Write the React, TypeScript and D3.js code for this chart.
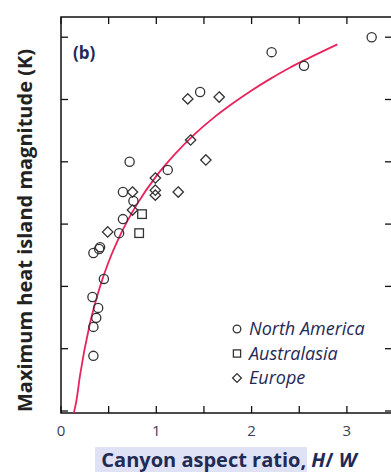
import React from "react";
import * as d3 from "d3";

const xTicks = [0, 0.5, 1, 1.5, 2, 2.5, 3];
const xTickLabels = [0, 1, 2, 3];
const yTicks = [0, 2, 4, 6, 8, 10, 12];

const northAmerica: [number, number][] = [
  [3.26, 12.0], [2.21, 11.52], [2.55, 11.08], [1.46, 10.24], [0.72, 8.0],
  [1.12, 7.74], [0.65, 7.03], [0.76, 6.74], [0.65, 6.16], [0.61, 5.71],
  [0.41, 5.26], [0.40, 5.2], [0.34, 5.07], [0.45, 4.24], [0.33, 3.66],
  [0.39, 3.31], [0.37, 2.99], [0.34, 2.7], [0.34, 1.77],
];
const australasia: [number, number][] = [
  [0.85, 6.32], [0.82, 5.71],
];
const europe: [number, number][] = [
  [1.33, 10.02], [1.66, 10.08], [1.36, 8.7], [1.52, 8.06], [0.99, 7.48],
  [0.99, 7.09], [0.99, 6.93], [1.23, 7.03], [0.75, 7.03], [0.75, 6.45],
  [0.49, 5.75],
];
const fitCurve: [number, number][] = [
  [0.135, -0.06], [0.16, 0.3], [0.2, 1.15], [0.3, 2.76], [0.4, 3.9], [0.5, 4.79],
  [0.6, 5.51], [0.7, 6.12], [0.8, 6.65], [1.0, 7.54], [1.2, 8.26],
  [1.4, 8.88], [1.6, 9.41], [1.8, 9.87], [2.0, 10.29], [2.2, 10.67],
  [2.4, 11.02], [2.6, 11.33], [2.9, 11.77],
];
const legendItems = ["North America", "Australasia", "Europe"];

const W = 391, H = 472;
const left = 61, right = 392, top = 17, bottom = 413;

export default function App() {
  const x = d3.scaleLinear().domain([0, 1]).range([left, left + 95.3]);
  const y = d3.scaleLinear().domain([0, 2]).range([411, 411 - 62.3]);
  const line = d3.line<[number, number]>().x(d => x(d[0])).y(d => y(d[1])).curve(d3.curveMonotoneX);
  const stroke = "#333";
  const navy = "#1f2a55";
  const circle = (cx: number, cy: number, r: number, k: string) => (
    <circle key={k} cx={cx} cy={cy} r={r} fill="none" stroke={stroke} strokeWidth={1.3} />
  );
  const square = (cx: number, cy: number, s: number, k: string) => (
    <rect key={k} x={cx - s} y={cy - s} width={2 * s} height={2 * s} fill="none" stroke={stroke} strokeWidth={1.3} />
  );
  const diamond = (cx: number, cy: number, s: number, k: string) => (
    <path key={k} d={`M${cx},${cy - s}L${cx + s},${cy}L${cx},${cy + s}L${cx - s},${cy}Z`} fill="none" stroke={stroke} strokeWidth={1.3} />
  );
  const legendX = 237, legendY = 329, legendDy = 24.5;
  return (
    <svg width={W} height={H} style={{ position: "absolute", left: 0, top: 0, background: "#fff" }}
      fontFamily="'Open Sans', 'Noto Sans', sans-serif">
      {/* frame */}
      <rect x={left} y={top} width={right - left} height={bottom - top} fill="none" stroke="#111" strokeWidth={1.5} />
      {xTicks.map((t, i) => (
        <g key={"xt" + i}>
          <line x1={x(t)} x2={x(t)} y1={bottom} y2={bottom - 7} stroke="#111" strokeWidth={1.3} />
          <line x1={x(t)} x2={x(t)} y1={top} y2={top + 7} stroke="#111" strokeWidth={1.3} />
        </g>
      ))}
      {yTicks.map((t, i) => (
        <g key={"yt" + i}>
          <line x1={left} x2={left + 7} y1={y(t)} y2={y(t)} stroke="#111" strokeWidth={1.3} />
          <line x1={right} x2={right - 7} y1={y(t)} y2={y(t)} stroke="#111" strokeWidth={1.3} />
        </g>
      ))}
      {xTickLabels.map(t => (
        <text key={"xl" + t} x={x(t)} y={436} textAnchor="middle" fontSize={15} fill="#3a3f5a">{t}</text>
      ))}
      {/* fit curve */}
      <path d={line(fitCurve) || ""} fill="none" stroke="#e8245c" strokeWidth={1.8} />
      {/* points */}
      {northAmerica.map((d, i) => circle(x(d[0]), y(d[1]), 4.6, "na" + i))}
      {australasia.map((d, i) => square(x(d[0]), y(d[1]), 4.3, "au" + i))}
      {europe.map((d, i) => diamond(x(d[0]), y(d[1]), 5.2, "eu" + i))}
      {/* panel label */}
      <text x={73} y={59} fontSize={17} fontWeight="bold" fill={navy}>(b)</text>
      {/* legend */}
      {legendItems.map((name, i) => {
        const cy = legendY + i * legendDy;
        const m = i === 0 ? circle(legendX, cy, 3.8, "lm") : i === 1 ? square(legendX, cy, 3.6, "lm") : diamond(legendX, cy, 4.4, "lm");
        return (
          <g key={"lg" + i}>
            {m}
            <text x={legendX + 12} y={cy + 6} fontSize={18} fontStyle="italic" fill={navy}>{name}</text>
          </g>
        );
      })}
      {/* y label */}
      <text transform={`translate(32,${(413 + 48) / 2}) rotate(-90)`} textAnchor="middle" fontSize={20}
        fontWeight="bold" fill="#222">Maximum heat island magnitude (K)</text>
      {/* x label */}
      <rect x={95} y={447} width={212} height={25} fill="#dfe1f4" />
      <text x={229} y={467} textAnchor="middle" fontSize={20} fontWeight="bold" fill={navy}>
        Canyon aspect ratio, <tspan fontStyle="italic">H</tspan>/<tspan fontStyle="italic"> W</tspan>
      </text>
    </svg>
  );
}
